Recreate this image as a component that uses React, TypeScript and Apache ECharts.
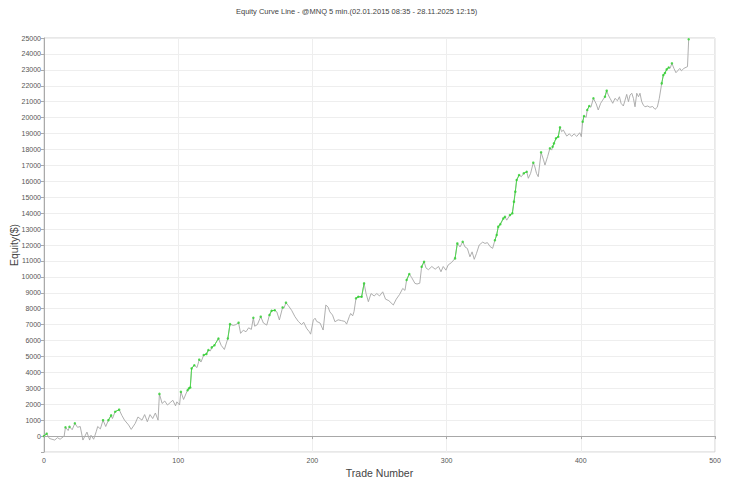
import React, { useEffect, useRef } from "react";
import * as echarts from "echarts";

const titleText = "Equity Curve Line - @MNQ 5 min.(02.01.2015 08:35 - 28.11.2025 12:15)";
const xTitle = "Trade Number";
const yTitle = "Equity($)";

const trades: number[] = [
  0, 2, 4, 8, 10, 12, 15, 16, 18, 19, 21, 23, 25, 27, 29, 32, 34, 35, 37, 39,
  40, 42, 44, 46, 48, 50, 51, 53, 56, 58, 60, 63, 65, 68, 70, 73, 75, 77, 79, 81,
  83, 85, 86, 88, 90, 92, 94, 96, 98, 99, 101, 102, 104, 106, 107, 108, 109, 110, 112, 114,
  115.7, 117, 119, 121, 122.5, 124, 125, 127, 130, 132, 134.4, 137, 138.6, 141, 143, 145, 146.5, 148.5, 150.5, 152.5,
  154.5, 156, 157, 159, 161.5, 163.5, 166, 168, 169.6, 172, 173.5, 175.4, 177.8, 178.8, 180.3, 182, 184.5, 187, 189.5, 192,
  193.5, 195.7, 197.7, 198.7, 200.7, 202, 203.2, 205.7, 208, 210, 211.7, 213, 215, 216.8, 219.2, 221.7, 224.2, 225.5, 227.5, 228.5,
  230, 231, 232.5, 234.2, 236.7, 238.5, 240, 241.7, 243.7, 246, 248, 250, 252.4, 254.5, 257, 260.3, 262.5, 265, 267.3, 269,
  270.2, 272.2, 274, 276.4, 278, 280, 281.4, 283.2, 284.7, 286.5, 289, 291.5, 294, 295.8, 297.5, 299.5, 301.2, 303.7, 306.3, 308,
  310, 312, 313.7, 315.5, 317.4, 319, 320.6, 322.3, 324.3, 326.9, 328.6, 330.4, 332.4, 334.3, 336, 337.3, 338.5, 340, 342.3, 343.5,
  344.8, 347.2, 349, 350.2, 351.2, 352.2, 354, 355.7, 357.5, 359.7, 360.9, 362.6, 364.6, 365.8, 367, 368.3, 370.4, 372.2, 373.3, 375.3,
  377, 378.3, 379, 380, 381.5, 383.2, 384.5, 385.7, 387, 389.5, 391.5, 393.2, 395, 397, 399.2, 400.4, 401.4, 402.4, 404, 404.8,
  406.3, 407.5, 409.4, 411.5, 413, 414.8, 416.3, 418, 419.3, 420.5, 421.8, 423.8, 425.5, 427.3, 428.8, 430, 431.7, 433, 434.2, 435.5,
  436.7, 438, 439.2, 440.4, 441.7, 443, 444.1, 445.4, 446.6, 447.8, 449.8, 451.5, 453.5, 455.3, 457, 458.5, 460.3, 461.5, 462.7, 464,
  465.5, 466.5, 467.9, 469.4, 470.9, 472.6, 473.8, 475, 476.8, 478.4, 479.5, 480.4,
];

const equity: number[] = [
  0, 150, -150, -250, -100, -200, 0, 550, 350, 580, 400, 800, 550, 600, -250, 250, -250, 50, -200, 300,
  600, 450, 1000, 600, 1000, 1300, 1100, 1530, 1660, 1300, 1000, 700, 420, 800, 1200, 1000, 1350, 900, 1350, 1100,
  1450, 1000, 2650, 2050, 2200, 1950, 2100, 2250, 1900, 2150, 1950, 2780, 2300, 2700, 2880, 3000, 3050, 4250, 4450, 4300,
  4800, 4650, 5090, 5150, 5400, 5350, 5570, 5700, 6130, 5700, 5440, 6130, 7030, 6950, 7000, 7120, 6450, 6650, 6550, 6800,
  6700, 7430, 6900, 7000, 7500, 7100, 6970, 7600, 7870, 7900, 7800, 7290, 8080, 8030, 8380, 8200, 7900, 7500, 7200, 7000,
  7150, 6760, 6550, 6400, 7290, 7400, 7200, 7100, 6660, 8230, 8100, 7800, 7600, 7180, 7300, 7250, 7200, 7030, 7500, 7700,
  7550, 7810, 8650, 8750, 8750, 9590, 8950, 8440, 8950, 8800, 8950, 8800, 9060, 8600, 8500, 8230, 8600, 8900, 9270, 9150,
  9800, 10180, 9950, 9590, 9550, 9600, 10630, 10950, 10550, 10450, 10650, 10480, 10650, 10320, 10650, 10420, 10750, 10900, 11160, 12100,
  11880, 12200, 11880, 11780, 11260, 11570, 11100, 11480, 12000, 12180, 12100, 12150, 11900, 11790, 12300, 12630, 13150, 13300, 13670, 13770,
  13560, 13880, 13990, 14720, 15350, 16080, 16390, 16290, 16500, 16600, 16190, 16500, 17170, 16900, 16500, 16290, 17820, 17350, 17020, 17560,
  18070, 17960, 18170, 18380, 18700, 18800, 19390, 19120, 19220, 18840, 18980, 18820, 18980, 18820, 19050, 18800, 19740, 20100, 20020, 20480,
  20730, 20650, 21210, 20860, 20480, 20900, 21100, 21310, 21690, 21420, 21210, 20900, 21210, 21060, 21310, 20900, 20730, 21100, 21460, 21000,
  21420, 21530, 21210, 20680, 21530, 21310, 21530, 21000, 20790, 20680, 20730, 20650, 20700, 20520, 20650, 21210, 22150, 22670, 22800, 23030,
  23150, 23090, 23410, 23090, 22820, 22980, 23090, 22940, 23090, 23160, 23200, 24920,
];

const xTicks: number[] = [0, 100, 200, 300, 400, 500];
const yTickMin = -1000;
const yTickMax = 25000;
const yTickStep = 1000;

export default function App() {
  const ref = useRef<HTMLDivElement>(null);

  useEffect(() => {
    if (!ref.current) return;
    const chart = echarts.init(ref.current, undefined, { renderer: "svg" });

    const lineData = trades.map((t, i) => [t, equity[i]]);
    let runMax = -Infinity;
    const isHigh = equity.map((v) => {
      const h = v >= runMax;
      if (v > runMax) runMax = v;
      return h;
    });
    const greenDots = trades.map((t, i) => [t, equity[i]]).filter((_, i) => isHigh[i]);
    const greenLine = trades.map((t, i) =>
      isHigh[i] && (isHigh[i - 1] || isHigh[i + 1]) ? [t, equity[i]] : [t, "-"]
    );

    chart.setOption({
      animation: false,
      backgroundColor: "#ffffff",
      textStyle: { fontFamily: "Liberation Sans, Arial, sans-serif" },
      title: {
        text: titleText,
        left: 231,
        top: 2,
        textStyle: { fontSize: 7.5, fontWeight: "normal", color: "#444" },
      },
      grid: {
        left: 44,
        right: 15,
        top: 38,
        bottom: 28,
        outerBoundsMode: "none",
        containLabel: false,
        show: true,
        borderColor: "#d0d0d0",
        borderWidth: 1,
      },
      xAxis: {
        type: "value",
        min: xTicks[0],
        max: xTicks[xTicks.length - 1],
        interval: 100,
        name: xTitle,
        nameLocation: "middle",
        nameGap: 15,
        nameMoveOverlap: false,
        nameTextStyle: { fontSize: 10.5, color: "#444" },
        axisLine: { show: true, lineStyle: { color: "#aaa" } },
        axisTick: { show: true, length: 3, lineStyle: { color: "#aaa" } },
        axisLabel: { fontSize: 7, color: "#555", margin: 5 },
        splitLine: { show: true, lineStyle: { color: "#eeeeee" } },
      },
      yAxis: {
        type: "value",
        min: yTickMin,
        max: yTickMax,
        interval: yTickStep,
        name: yTitle,
        nameLocation: "middle",
        nameGap: 25,
        nameMoveOverlap: false,
        nameTextStyle: { fontSize: 10.5, color: "#444" },
        axisLine: { show: true, lineStyle: { color: "#aaa" } },
        axisTick: { show: true, length: 3, lineStyle: { color: "#aaa" } },
        axisLabel: {
          fontSize: 7,
          color: "#555",
          margin: 3,
          formatter: (v: number) => (v === yTickMin ? "" : String(v)),
        },
        splitLine: { show: true, lineStyle: { color: "#eeeeee" } },
      },
      series: [
        {
          type: "line",
          data: lineData,
          showSymbol: false,
          symbol: "none",
          lineStyle: { color: "#a6a6a6", width: 0.9 },
          z: 2,
          markLine: {
            silent: true,
            symbol: "none",
            label: { show: false },
            lineStyle: { color: "#a8a8a8", type: "solid", width: 1 },
            data: [{ yAxis: 0 }],
          },
        },
        {
          type: "line",
          data: greenLine,
          connectNulls: false,
          showSymbol: false,
          symbol: "none",
          lineStyle: { color: "#44dd44", width: 0.9 },
          z: 3,
        },
        {
          type: "scatter",
          data: greenDots,
          symbol: "circle",
          symbolSize: 2.5,
          itemStyle: { color: "#2fd02f" },
          z: 4,
        },
      ],
    });

    return () => chart.dispose();
  }, []);

  return (
    <div
      ref={ref}
      style={{ position: "fixed", left: 0, top: 0, width: 730, height: 480 }}
    />
  );
}
